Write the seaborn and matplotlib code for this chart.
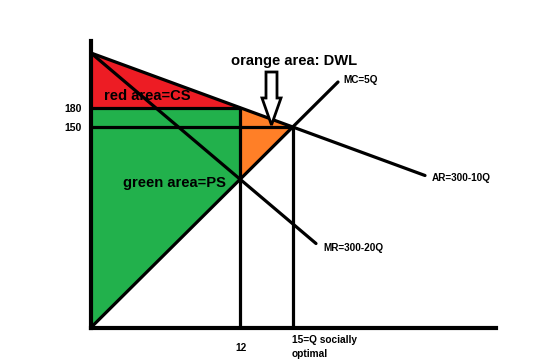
import matplotlib
matplotlib.use("Agg")
import matplotlib.pyplot as plt
import seaborn as sns
import pandas as pd
from matplotlib.patches import FancyArrow

# ---- Schematic diagram, positions as drawn (not to scale) ----
# quantity positions (drawn units) and their labels
q_pos = [149, 202]
q_labels = ["12", "15=Q socially\noptimal"]
# price positions (drawn units) and labels
p_pos = [219.5, 200.5]
p_labels = ["180", "150"]
p_top = 274.5          # price intercept of AR / MR (300)

# curves: [start, end] points as drawn
ar_x = [0, 334]
ar_y = [p_top, 152]
mr_x = [0, 225]
mr_y = [p_top, 84]
mc_x = [0, 247]
mc_y = [0, 245.5]
mc_mr_y = 148.5        # MC meets MR at Q=12

curve_labels = {"AR=300-10Q": (341, 149.5), "MR=300-20Q": (232, 79.5), "MC=5Q": (252, 247.5)}
area_labels = {"red area=CS": (13, 231.5), "green area=PS": (32, 144.5)}
title_label = ("orange area: DWL", (140, 266.5))

red = "#ED1C24"
green = "#22B14C"
orange = "#FF7F27"

sns.set_style("white")
plt.rcParams["font.family"] = ["Liberation Sans", "DejaVu Sans"]
plt.rcParams["font.weight"] = "bold"
plt.rcParams["text.color"] = "black"
plt.rcParams["ytick.color"] = "black"
plt.rcParams["xtick.color"] = "black"

fig = plt.figure(figsize=(5.6, 3.64), dpi=100)
ax = fig.add_axes([91 / 560, 36.5 / 364, 405 / 560, 286.5 / 364])
ax.set_xlim(0, 405)
ax.set_ylim(0, 286.5)

# areas
q12, q15 = q_pos
p180, p150 = p_pos
ax.fill([0, q12, 0], [p_top, p180, p180], color=red, lw=0, zorder=1)
ax.fill([0, q12, q12, 0], [p180, p180, mc_mr_y, 0], color=green, lw=0, zorder=1)
ax.fill([q12, q15, q12], [p180, p150, mc_mr_y], color=orange, lw=0, zorder=1)

lw = 2.3
segs = [
    (ar_x, ar_y), (mr_x, mr_y), (mc_x, mc_y),
    ([0, q12], [p180, p180]), ([0, q15], [p150, p150]),
    ([q12, q12], [0, p180]), ([q15, q15], [0, p150]),
]
for xs, ys in segs:
    df = pd.DataFrame({"x": xs, "y": ys})
    sns.lineplot(data=df, x="x", y="y", color="black", linewidth=lw,
                 sort=False, estimator=None, ax=ax, zorder=3)

# arrow
arr = FancyArrow(180.5, 255.5, 0, -53, width=11, head_width=19, head_length=27,
                 length_includes_head=True, fc="white", ec="black", lw=2, zorder=4)
ax.add_patch(arr)

# axes
sns.despine(ax=ax)
for s in ["left", "bottom"]:
    ax.spines[s].set_linewidth(3)
    ax.spines[s].set_color("black")
    ax.spines[s].set_capstyle("projecting")
ax.set_xlabel("")
ax.set_ylabel("")
ax.set_yticks(p_pos)
ax.set_yticklabels(p_labels, fontsize=7.5, fontweight="bold", color="black")
ax.tick_params(axis="y", length=0, pad=7)
ax.set_xticks([])

xt = ax.get_xaxis_transform()
ax.text(q_pos[0] + 1, -0.055, q_labels[0], transform=xt, ha="center", va="top",
        fontsize=7.3, fontweight="bold", linespacing=1.5, color="black")
ax.text(q_pos[1] - 1, -0.025, q_labels[1], transform=xt, ha="left", va="top",
        fontsize=7.3, fontweight="bold", linespacing=1.5, color="black")

for t, (x, y) in curve_labels.items():
    ax.text(x, y, t, ha="left", va="center", fontsize=7.2, fontweight="bold", color="black")
for t, (x, y) in area_labels.items():
    ax.text(x, y, t, ha="left", va="center", fontsize=10.6, fontweight="bold",
            color="black", zorder=5)
ax.text(title_label[1][0], title_label[1][1], title_label[0], ha="left", va="center",
        fontsize=10.6, fontweight="bold", color="black")

fig.savefig("out.png", dpi=100)
